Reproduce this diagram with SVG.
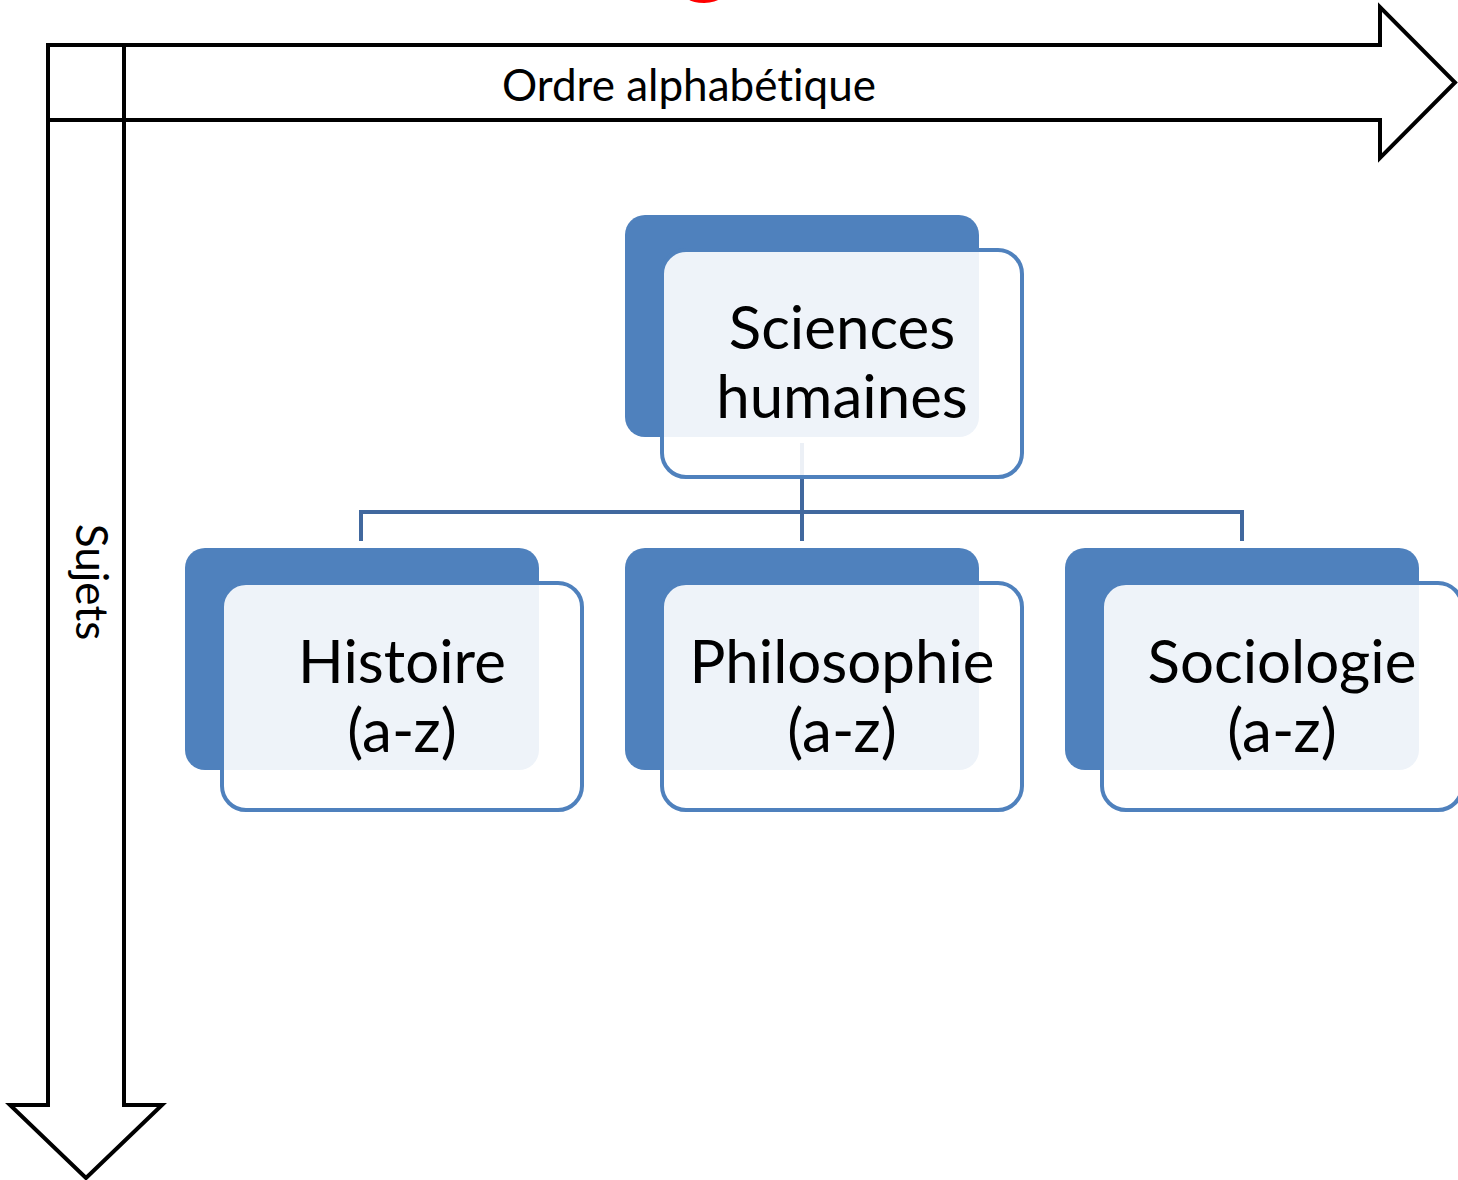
<svg xmlns="http://www.w3.org/2000/svg" width="1458" height="1180" viewBox="0 0 1458 1180">
  <style>
    .axis { fill: none; stroke: #000; stroke-width: 4; stroke-linejoin: miter; }
    .back { fill: #4F81BD; }
    .front { fill: #FFFFFF; fill-opacity: 0.9; stroke: #4F81BD; stroke-width: 4; }
    .conn { fill: none; stroke: #41689E; stroke-width: 4; }
    .lbl { font-family: Lato, "Open Sans", sans-serif; font-size: 60px; fill: #000; text-anchor: middle; font-variant-ligatures: none; }
    .axlbl { font-family: Lato, "Open Sans", sans-serif; font-size: 44px; fill: #000; text-anchor: middle; font-variant-ligatures: none; }
  </style>
  <rect width="1458" height="1180" fill="#FFFFFF"/>
  <text x="705" y="-15" font-family="Lato, sans-serif" font-size="100" fill="#FF0000" text-anchor="middle">g</text>
  <g id="axis-horizontal">
    <path class="axis" d="M48,45 L1380,45 L1380,7 L1455,82.5 L1380,158 L1380,120 L48,120 Z"/>
    <text class="axlbl" x="689" y="101">Ordre alphabétique</text>
  </g>
  <g id="axis-vertical">
    <path class="axis" d="M48,45 L124,45 L124,1105 L162,1105 L86,1178 L10,1105 L48,1105 Z"/>
    <text class="axlbl" transform="translate(76,582) rotate(90)" x="0" y="0">Sujets</text>
  </g>
  <g id="connectors">
    <path class="conn" d="M802,443 L802,541 M361,541 L361,512 L1242,512 L1242,541"/>
  </g>
  <g id="node-sciences">
    <rect class="back" x="625" y="215" width="354" height="222" rx="20"/>
    <rect class="front" x="662" y="250" width="360" height="227" rx="24"/>
    <text class="lbl" x="842" y="349">Sciences</text>
    <text class="lbl" x="842" y="418">humaines</text>
  </g>
  <g id="node-histoire">
    <rect class="back" x="185" y="548" width="354" height="222" rx="20"/>
    <rect class="front" x="222" y="583" width="360" height="227" rx="24"/>
    <text class="lbl" x="402" y="683">Histoire</text>
    <text class="lbl" x="402" y="752">(a-z)</text>
  </g>
  <g id="node-philosophie">
    <rect class="back" x="625" y="548" width="354" height="222" rx="20"/>
    <rect class="front" x="662" y="583" width="360" height="227" rx="24"/>
    <text class="lbl" x="842" y="683">Philosophie</text>
    <text class="lbl" x="842" y="752">(a-z)</text>
  </g>
  <g id="node-sociologie">
    <rect class="back" x="1065" y="548" width="354" height="222" rx="20"/>
    <rect class="front" x="1102" y="583" width="360" height="227" rx="24"/>
    <text class="lbl" x="1282" y="683">Sociologie</text>
    <text class="lbl" x="1282" y="752">(a-z)</text>
  </g>
</svg>
